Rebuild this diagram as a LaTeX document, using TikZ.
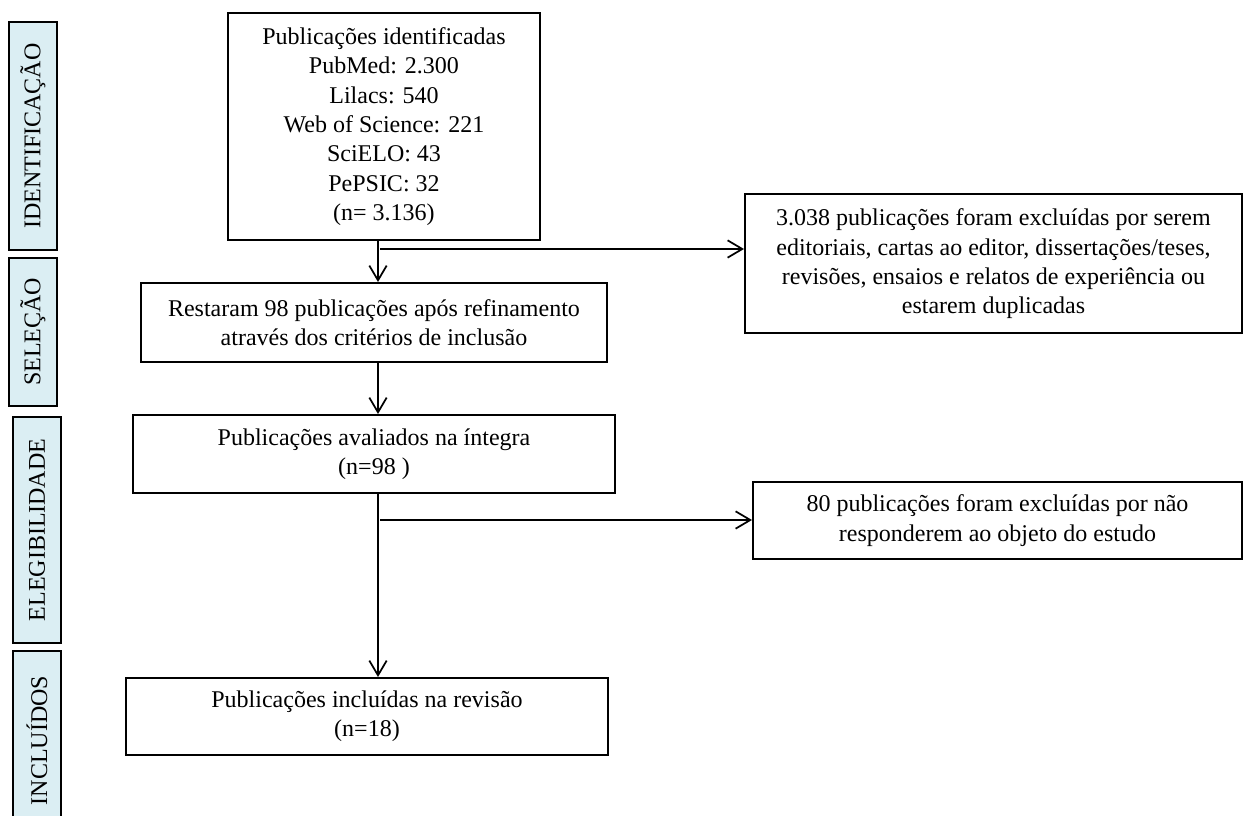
\documentclass[tikz,border=0pt]{standalone}
\usepackage{fontspec}
\setmainfont{Liberation Serif}
\usetikzlibrary{arrows.meta,calc}
\definecolor{sidefill}{HTML}{DBEEF3}
\begin{document}
\begin{tikzpicture}[x=0.75pt,y=-0.75pt,
  box/.style={draw=black,line width=1.5pt,align=center,inner sep=0pt,
    font=\fontsize{18}{22}\selectfont},
  side/.style={draw=black,line width=1.5pt,fill=sidefill,rotate=90,inner sep=0pt,
    minimum height=36pt,font=\fontsize{18}{22}\selectfont},
  arr/.style={line width=1.3pt,-{Straight Barb[length=11pt,width=13pt,line width=1.3pt]}},
  link/.style={line width=1.3pt}]
\useasboundingbox (0,0) rectangle (1254,816);
\clip (0,0) rectangle (1254,816);

% side labels
\node[side,minimum width=171pt] (sid) at (33,136) {IDENTIFICAÇÃO};
\node[side,minimum width=111pt] (ssel) at (33,332) {SELEÇÃO};
\node[side,minimum width=169.5pt] (seleg) at (37,530) {ELEGIBILIDADE};
\node[side,minimum width=134.25pt] (sinc) at (37,740.5) {INCLUÍDOS};

% main boxes
\node[box,minimum width=234pt,minimum height=170.25pt] (b1) at (384,126.5)
  {Publicações identificadas\\PubMed: 2.300\\Lilacs: 540\\Web of Science: 221\\SciELO: 43\\PePSIC: 32\\(n= 3.136)};
\node[box,minimum width=372.75pt,minimum height=104.25pt] (r1) at (993.5,264)
  {3.038 publicações foram excluídas por serem\\editoriais, cartas ao editor, dissertações/teses,\\revisões, ensaios e relatos de experiência ou\\estarem duplicadas};
\node[box,minimum width=349.5pt,minimum height=59.25pt] (b2) at (374,322.5)
  {Restaram 98 publicações após refinamento\\através dos critérios de inclusão};
\node[box,minimum width=361.5pt,minimum height=58.5pt] (b3) at (374,454)
  {Publicações avaliados na íntegra\\(n=98 )};
\node[box,minimum width=366.75pt,minimum height=57.75pt] (r2) at (997.5,520.5)
  {80 publicações foram excluídas por não\\responderem ao objeto do estudo};
\node[box,minimum width=361.5pt,minimum height=57.75pt] (b5) at (367,716.5)
  {Publicações incluídas na revisão\\(n=18)};

% connectors
\coordinate (spine) at (378,0);
\coordinate (j1) at (380,249);
\coordinate (j2) at (380,520);
\draw[arr] (b1.south -| spine) -- (b2.north -| spine);
\draw[arr] (j1) -- (j1 -| r1.west);
\draw[arr] (b2.south -| spine) -- (b3.north -| spine);
\draw[arr] (b3.south -| spine) -- (b5.north -| spine);
\draw[arr] (j2) -- (j2 -| r2.west);
\end{tikzpicture}
\end{document}
